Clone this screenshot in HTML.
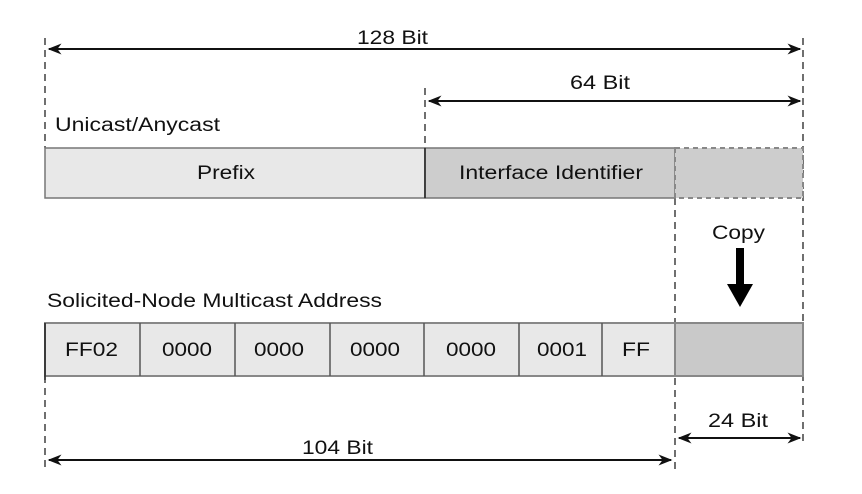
<!DOCTYPE html>
<html><head><style>body{margin:0;background:#fff}svg{display:block}text{font-family:"Liberation Sans",sans-serif;font-size:19px;fill:#111}</style></head><body>
<svg width="862" height="494" viewBox="0 0 862 494">
<defs><marker id="a" viewBox="0 0 10 10" refX="9" refY="5" markerWidth="7" markerHeight="7" orient="auto-start-reverse"><path d="M0,1 L10,5 L0,9 L3,5z" fill="#111"/></marker></defs>
<g stroke="#222" stroke-width="1.3" stroke-dasharray="7,5" fill="none">
<line x1="45" y1="38" x2="45" y2="148"/>
<line x1="803" y1="38" x2="803" y2="445"/>
<line x1="425" y1="88" x2="425" y2="148"/>
<line x1="675" y1="198" x2="675" y2="472"/>
<line x1="45" y1="376" x2="45" y2="472"/>
</g>
<g stroke="#111" stroke-width="2" marker-start="url(#a)" marker-end="url(#a)">
<line x1="49" y1="49" x2="800" y2="49"/>
<line x1="429" y1="101" x2="800" y2="101"/>
<line x1="49" y1="460" x2="671" y2="460"/>
<line x1="679" y1="438" x2="800" y2="438"/>
</g>
<text x="357" y="44" textLength="71" lengthAdjust="spacingAndGlyphs">128 Bit</text>
<text x="570" y="89" textLength="60" lengthAdjust="spacingAndGlyphs">64 Bit</text>
<text x="55" y="131" textLength="165" lengthAdjust="spacingAndGlyphs">Unicast/Anycast</text>
<rect x="45" y="148" width="380" height="50" fill="#e8e8e8" stroke="#777" stroke-width="1.5"/>
<rect x="425" y="148" width="250" height="50" fill="#cdcdcd" stroke="#777" stroke-width="1.5"/>
<line x1="425" y1="148" x2="425" y2="198" stroke="#222" stroke-width="1.5"/>
<rect x="675" y="148" width="128" height="50" fill="#cdcdcd" stroke="#888" stroke-width="2" stroke-dasharray="5,4"/>
<text x="197" y="179" textLength="58" lengthAdjust="spacingAndGlyphs">Prefix</text>
<text x="459" y="179" textLength="184" lengthAdjust="spacingAndGlyphs">Interface Identifier</text>
<text x="712" y="239" textLength="53" lengthAdjust="spacingAndGlyphs">Copy</text>
<rect x="736" y="248" width="8" height="38" fill="#000"/>
<path d="M727,284 L753,284 L740,307z" fill="#000"/>
<text x="47" y="307" textLength="335" lengthAdjust="spacingAndGlyphs">Solicited-Node Multicast Address</text>
<rect x="45" y="323" width="630" height="53" fill="#e8e8e8" stroke="#888" stroke-width="2"/>
<rect x="675" y="323" width="128" height="53" fill="#c9c9c9" stroke="#888" stroke-width="2"/>
<g stroke="#555" stroke-width="1.5">
<line x1="140" y1="323" x2="140" y2="376"/><line x1="235" y1="323" x2="235" y2="376"/>
<line x1="330" y1="323" x2="330" y2="376"/><line x1="424" y1="323" x2="424" y2="376"/>
<line x1="519" y1="323" x2="519" y2="376"/><line x1="602" y1="323" x2="602" y2="376"/>
</g>
<line x1="45" y1="323" x2="45" y2="380" stroke="#222" stroke-width="1.5"/>
<text x="65" y="356" textLength="53" lengthAdjust="spacingAndGlyphs">FF02</text>
<text x="162" y="356" textLength="50" lengthAdjust="spacingAndGlyphs">0000</text>
<text x="254" y="356" textLength="50" lengthAdjust="spacingAndGlyphs">0000</text>
<text x="350" y="356" textLength="50" lengthAdjust="spacingAndGlyphs">0000</text>
<text x="446" y="356" textLength="50" lengthAdjust="spacingAndGlyphs">0000</text>
<text x="537" y="356" textLength="50" lengthAdjust="spacingAndGlyphs">0001</text>
<text x="622" y="356" textLength="28" lengthAdjust="spacingAndGlyphs">FF</text>
<text x="708" y="427" textLength="60" lengthAdjust="spacingAndGlyphs">24 Bit</text>
<text x="302" y="454" textLength="71" lengthAdjust="spacingAndGlyphs">104 Bit</text>
</svg>
</body></html>
